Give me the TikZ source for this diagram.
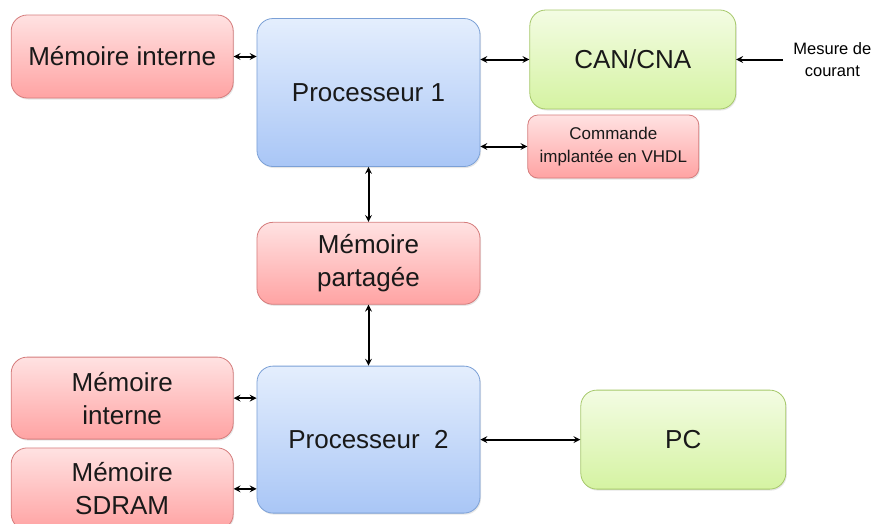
\documentclass[tikz,border=0pt]{standalone}
\usepackage{xcolor}
\usepackage{fontspec}
\setmainfont{Liberation Sans}
\usepackage{tikz}
\usetikzlibrary{arrows, positioning, shadows}
\definecolor{redtop}{HTML}{FFE2E2}
\definecolor{redbot}{HTML}{FFA3A3}
\definecolor{redline}{HTML}{D57C7C}
\definecolor{bluetop}{HTML}{E4EEFD}
\definecolor{bluebot}{HTML}{A9C6F6}
\definecolor{blueline}{HTML}{7BA0D6}
\definecolor{greentop}{HTML}{F3FCE3}
\definecolor{greenbot}{HTML}{D5F3A2}
\definecolor{greenline}{HTML}{A6C86A}
\tikzstyle{arrow} = [line width=2pt,<->,>=stealth]
\tikzstyle{block} = [rectangle, rounded corners=16pt, text centered, align=center, line width=0.8pt, text=black!90, font=\fontsize{26}{33}\selectfont, drop shadow={shadow xshift=1pt, shadow yshift=-1.5pt, opacity=0.2}]
\tikzstyle{mem} = [block, draw=redline, top color=redtop, bottom color=redbot, minimum width=222pt, minimum height=83pt]
\tikzstyle{proc} = [block, draw=blueline, top color=bluetop, bottom color=bluebot, minimum width=223pt, minimum height=148pt]
\tikzstyle{conv} = [block, draw=greenline, top color=greentop, bottom color=greenbot, minimum width=206pt, minimum height=99pt]

\begin{document}
\begin{tikzpicture}[node distance=0.5cm]
    \useasboundingbox (-368.5pt,92.5pt) rectangle (508.5pt,-430.5pt);

    % Processeur 1
    \node (proc1) [proc] {Processeur 1};
    \node (memi1) [mem, left=23pt of proc1, yshift=36pt] {Mémoire interne};
    \node (can) [conv, right=49pt of proc1, yshift=33pt] {CAN/CNA};
    \node (cmd) [mem, right=47pt of proc1, yshift=-54pt, minimum width=171pt, minimum height=63pt, rounded corners=10pt, font=\fontsize{17}{23}\selectfont] {Commande\\implantée en VHDL};
    \node (mesure) [right=47pt of can, inner xsep=10pt, align=center, font=\fontsize{16.5}{22}\selectfont] {Mesure de\\courant};

    % Memoire partagee
    \node (memp) [mem, below=55pt of proc1, minimum width=223pt, minimum height=82pt] {Mémoire\\partagée};

    % Processeur 2
    \node (proc2) [proc, below=61pt of memp, minimum height=147pt] {Processeur~~2};
    \node (memi2) [mem, left=23pt of proc2, yshift=41.5pt, minimum height=82pt] {Mémoire\\interne};
    \node (sdram) [mem, below=8pt of memi2, minimum height=82pt] {Mémoire\\SDRAM};
    \node (pc) [conv, right=100pt of proc2, minimum width=205pt] {PC};

    % Liaisons
    \draw [arrow] (memi1.east) -- (memi1.east -| proc1.west);
    \draw [arrow] (proc1.east |- can.west) -- (can.west);
    \draw [arrow] (proc1.east |- cmd.west) -- (cmd.west);
    \draw [line width=2pt,->,>=stealth] (mesure.west) -- (can.east);
    \draw [arrow] (proc1.south) -- (memp.north);
    \draw [arrow] (memp.south) -- (proc2.north);
    \draw [arrow] (memi2.east) -- (memi2.east -| proc2.west);
    \draw [arrow] (sdram.east) -- (sdram.east -| proc2.west);
    \draw [arrow] (proc2.east) -- (pc.west);
\end{tikzpicture}
\end{document}
